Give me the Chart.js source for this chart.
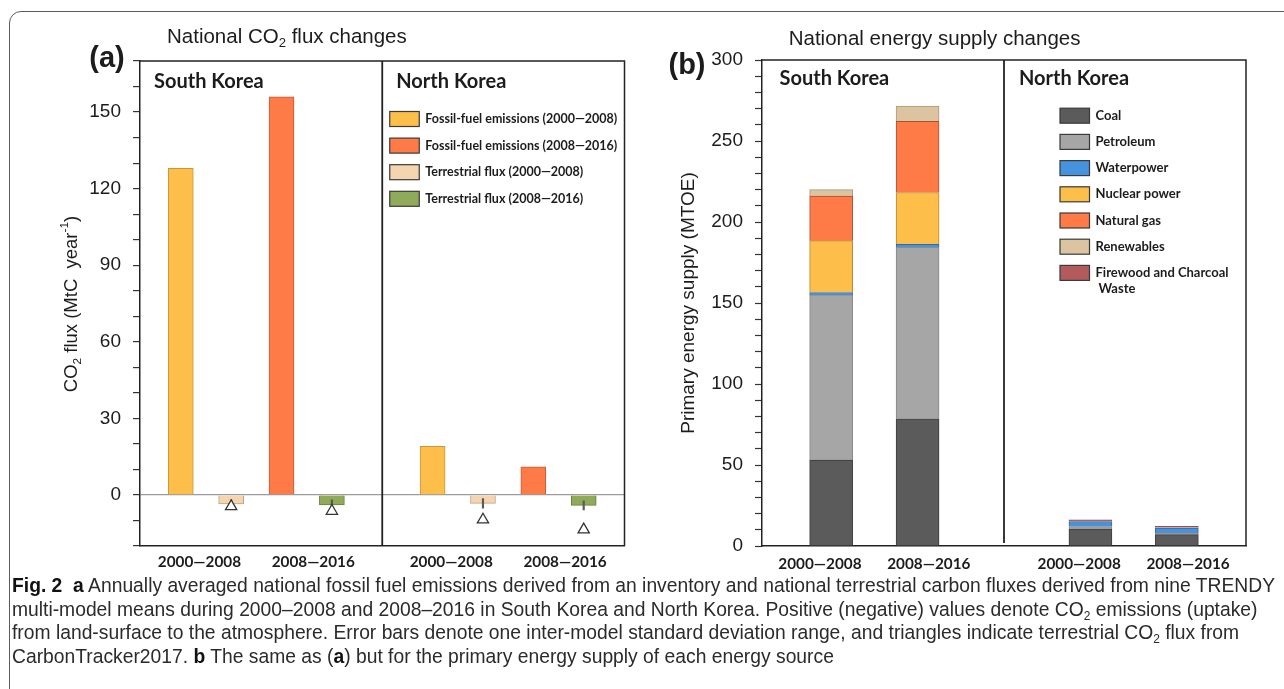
<!DOCTYPE html>
<html>
<head>
<meta charset="utf-8">
<script src="https://cdn.jsdelivr.net/npm/chart.js@4.4.1/dist/chart.umd.min.js"></script>
<style>
  html, body { margin: 0; padding: 0; background: #fff; }
  body { width: 1284px; height: 689px; overflow: hidden; position: relative; }
  #frame { position: absolute; left: 9px; top: 11px; width: 1400px; height: 800px;
           border: 1.3px solid #5c5c5c; border-radius: 12px; box-sizing: border-box; }
  canvas { position: absolute; top: 0; }
  #fluxCanvas { left: 0; }
  #energyCanvas { left: 640px; }
  #caption { position: absolute; left: 12px; top: 573px; color: #2b2b2b;
             font-family: "Liberation Sans Narrow", "Liberation Sans", Arial, sans-serif; font-size: 20.5px; }
  #caption .line { white-space: nowrap; width: max-content; height: 23.7px; line-height: 23.7px; transform-origin: 0 50%; }
  #caption b { color: #111; }
  #caption sub { font-size: 62%; vertical-align: -0.3em; line-height: 0; }
</style>
</head>
<body>
<div id="frame"></div>
<canvas id="fluxCanvas" width="640" height="600"></canvas>
<canvas id="energyCanvas" width="644" height="600"></canvas>
<div id="caption">
  <div class="line"><b>Fig. 2</b>&nbsp; <b>a</b> Annually averaged national fossil fuel emissions derived from an inventory and national terrestrial carbon fluxes derived from nine TRENDY</div>
  <div class="line">multi-model means during 2000–2008 and 2008–2016 in South Korea and North Korea. Positive (negative) values denote CO<sub>2</sub> emissions (uptake)</div>
  <div class="line">from land-surface to the atmosphere. Error bars denote one inter-model standard deviation range, and triangles indicate terrestrial CO<sub>2</sub> flux from</div>
  <div class="line">CarbonTracker2017. <b>b</b> The same as (<b>a</b>) but for the primary energy supply of each energy source</div>
</div>
<script>
// ---------------- data ----------------
const countries = ['South Korea', 'North Korea'];
const periods = ['2000—2008', '2008—2016'];

// (a) CO2 flux, MtC per year, [South Korea, North Korea]
const fossil2000to2008 = [128, 19];
const fossil2008to2016 = [156, 11];
const terrestrial2000to2008 = [-3.5, -3.3];
const terrestrial2008to2016 = [-3.9, -4.1];
const terrestrialSd2000to2008 = [1.6, 1.9];
const terrestrialSd2008to2016 = [2.0, 1.8];
const carbonTracker2000to2008 = [-4.5, -9.7];
const carbonTracker2008to2016 = [-6.3, -13.6];

// (b) primary energy supply, MTOE, [SK 2000—2008, SK 2008—2016, NK 2000—2008, NK 2008—2016]
const coal = [53, 78.5, 10.5, 7];
const petroleum = [102, 106, 1.5, 1.1];
const waterpower = [1.5, 1.7, 3.1, 3.0];
const nuclearPower = [32, 32, 0, 0];
const naturalGas = [27.5, 44, 0, 0];
const renewables = [4, 9.3, 0.3, 0.3];
const firewoodCharcoal = [0, 0, 0.8, 0.8];

// (a) y ticks every 10, labelled every 30; (b) every 10, labelled every 50
const fluxTickStep = 10, fluxLabelStep = 30;
const energyTickStep = 10, energyLabelStep = 50;

// ---------------- shared helpers ----------------
const SANS = '"Liberation Sans", Arial, sans-serif';
const LABEL = 'Lato, "Liberation Sans", sans-serif';
const INK = '#1c1c1c';
const periodLabelSpread = 0.13;   // period labels sit slightly apart, in slot units

// draws a string made of parts ['text', 'sub'|'sup'|undefined]
function drawRich(ctx, parts, x, y, size, family, weight, align) {
  const fontFor = (kind) => `${weight} ${kind ? size * 0.64 : size}px ${family}`;
  let total = 0;
  for (const [t, kind] of parts) { ctx.font = fontFor(kind); total += ctx.measureText(t).width; }
  let cx = align === 'center' ? x - total / 2 : (align === 'right' ? x - total : x);
  ctx.textAlign = 'left';
  ctx.textBaseline = 'middle';
  for (const [t, kind] of parts) {
    ctx.font = fontFor(kind);
    const dy = kind === 'sub' ? size * 0.3 : (kind === 'sup' ? -size * 0.38 : 0);
    ctx.fillText(t, cx, y + dy);
    cx += ctx.measureText(t).width;
  }
}
function drawRotated(ctx, parts, x, y, size, family, weight) {
  ctx.save();
  ctx.translate(x, y);
  ctx.rotate(-Math.PI / 2);
  drawRich(ctx, parts, 0, 0, size, family, weight, 'center');
  ctx.restore();
}
function drawLegendRow(ctx, boxX, rowY, fill, lines, textX, size) {
  ctx.fillStyle = fill;
  ctx.fillRect(boxX, rowY - 7.5, 29.5, 15);
  ctx.strokeStyle = '#3a3a3a';
  ctx.lineWidth = 1.2;
  ctx.strokeRect(boxX, rowY - 7.5, 29.5, 15);
  ctx.fillStyle = INK;
  ctx.font = `bold ${size}px ${LABEL}`;
  ctx.textAlign = 'left';
  ctx.textBaseline = 'middle';
  lines.forEach((t, i) => ctx.fillText(t, textX + (i ? 3 : 0), rowY + i * 15.5));
}
function frameAndDivider(ctx, ca, xd, bottomInset) {
  ctx.strokeStyle = '#222';
  ctx.lineWidth = 1.5;
  ctx.beginPath();
  ctx.moveTo(ca.left, ca.top);
  ctx.lineTo(ca.right, ca.top);
  ctx.lineTo(ca.right, ca.bottom);
  ctx.stroke();
  ctx.lineWidth = 1.8;
  ctx.beginPath();
  ctx.moveTo(xd, ca.top);
  ctx.lineTo(xd, ca.bottom - bottomInset);
  ctx.stroke();
}

Chart.defaults.font.family = SANS;
Chart.defaults.color = INK;

// ---------------- (a) CO2 flux ----------------
// slot on the x axis: 4 bars per country, one empty slot between countries
const fluxSlot = (c, p, k) => c * 5 + p * 2 + k;      // k: 0 fossil, 1 terrestrial
const fluxDivider = 4;
const fluxPoints = (vals, p, k) => vals.map((v, c) => ({ x: fluxSlot(c, p, k), y: v }));
const fluxTicks = countries.flatMap((_, c) => periods.map((_, p) =>
  fluxSlot(c, p, 0) + 0.5 + (p ? periodLabelSpread : -periodLabelSpread)));

const fluxSeries = [
  { label: 'Fossil-fuel emissions (2000—2008)', data: fluxPoints(fossil2000to2008, 0, 0), backgroundColor: '#FDBF4A', borderColor: '#C9953B' },
  { label: 'Fossil-fuel emissions (2008—2016)', data: fluxPoints(fossil2008to2016, 1, 0), backgroundColor: '#FE7B47', borderColor: '#C25A33' },
  { label: 'Terrestrial flux (2000—2008)', data: fluxPoints(terrestrial2000to2008, 0, 1), backgroundColor: '#F4D5AF', borderColor: '#C4A47E' },
  { label: 'Terrestrial flux (2008—2016)', data: fluxPoints(terrestrial2008to2016, 1, 1), backgroundColor: '#8FAB5A', borderColor: '#66823C' }
];
const errorBars = [
  ...terrestrial2000to2008.map((v, c) => ({ x: fluxSlot(c, 0, 1), y: [v - terrestrialSd2000to2008[c], v + terrestrialSd2000to2008[c]] })),
  ...terrestrial2008to2016.map((v, c) => ({ x: fluxSlot(c, 1, 1), y: [v - terrestrialSd2008to2016[c], v + terrestrialSd2008to2016[c]] }))
];
const trackerPoints = [...fluxPoints(carbonTracker2000to2008, 0, 1), ...fluxPoints(carbonTracker2008to2016, 1, 1)];

const fluxDecor = {
  id: 'fluxDecor',
  afterDraw(chart) {
    const { ctx, chartArea: ca, scales: { x } } = chart;
    const xd = x.getPixelForValue(fluxDivider);
    ctx.save();
    frameAndDivider(ctx, ca, xd, 0);
    ctx.fillStyle = INK;
    drawRich(ctx, [['National CO'], ['2', 'sub'], [' flux changes']], 167, 37, 20.5, SANS, 'normal', 'left');
    drawRich(ctx, [['(a)']], 107, 59, 29, SANS, 'bold', 'center');
    drawRotated(ctx, [['CO'], ['2', 'sub'], [' flux (MtC  year'], ['-1', 'sup'], [')']], 72, 304, 18.5, SANS, 'normal');
    ctx.font = `bold 20px ${LABEL}`;
    ctx.textAlign = 'left';
    ctx.textBaseline = 'middle';
    ctx.fillText(countries[0], ca.left + 14, 82);
    ctx.fillText(countries[1], xd + 14, 82);
    fluxSeries.forEach((s, i) => drawLegendRow(ctx, xd + 7.5, ca.top + 58 + i * 26.6, s.backgroundColor, [s.label], xd + 43, 12.5));
    ctx.restore();
  }
};

new Chart(document.getElementById('fluxCanvas'), {
  type: 'bar',
  data: {
    datasets: [
      { type: 'scatter', data: trackerPoints, pointStyle: 'triangle', pointRadius: 6.5, pointBackgroundColor: '#fff',
        pointBorderColor: '#333', pointBorderWidth: 1.3, order: 0 },
      { data: errorBars, backgroundColor: '#5a5a5a', borderWidth: 0, barThickness: 1.5, order: 1 },
      ...fluxSeries.map(s => ({ ...s, borderWidth: 1, barThickness: 25, order: 2 }))
    ]
  },
  options: {
    responsive: false,
    animation: false,
    layout: { padding: { left: 40, top: 61, right: 15.5, bottom: 14 } },
    plugins: { legend: { display: false }, tooltip: { enabled: false } },
    scales: {
      x: {
        type: 'linear', min: -0.81, max: 8.81, stacked: true, offset: false,
        afterBuildTicks: s => { s.ticks = fluxTicks.map(v => ({ value: v })); },
        afterFit: s => { s.height = 40; },
        ticks: { callback: (v, i) => periods[i % 2], autoSkip: false, maxRotation: 0, padding: 7,
                 font: { family: LABEL, weight: 'bold', size: 15.3 }, color: INK },
        grid: { display: false, drawTicks: false },
        border: { display: true, color: '#222', width: 1.5 }
      },
      y: {
        min: -20, max: 170, stacked: false,
        afterFit: s => { s.width = 100; },
        ticks: { stepSize: fluxTickStep, autoSkip: false, padding: 12,
                 callback: v => (v % fluxLabelStep === 0 ? String(v) : ''),
                 font: { family: SANS, size: 19 }, color: INK },
        grid: { drawOnChartArea: true, lineWidth: 1.2,
                color: c => (c.tick && c.tick.value === 0 ? '#9c9c9c' : 'rgba(0,0,0,0)'),
                tickColor: '#333', tickLength: 7, tickWidth: 1.2 },
        border: { color: '#222', width: 1.5 }
      }
    }
  },
  plugins: [fluxDecor]
});

// ---------------- (b) energy supply ----------------
const energySlot = (c, p) => c * 3 + p;                 // one empty slot between countries
const energyDivider = 2;
const energyPoints = vals => vals.map((v, i) => ({ x: energySlot(Math.floor(i / 2), i % 2), y: v === 0 ? null : v }));
const energyTicks = countries.flatMap((_, c) => periods.map((_, p) =>
  energySlot(c, p) + (p ? periodLabelSpread : -periodLabelSpread)));

const energySeries = [
  { label: 'Coal', values: coal, backgroundColor: '#5B5B5B', borderColor: '#3C3C3C' },
  { label: 'Petroleum', values: petroleum, backgroundColor: '#A6A6A6', borderColor: '#868686' },
  { label: 'Waterpower', values: waterpower, backgroundColor: '#4592DE', borderColor: '#2E6BAA' },
  { label: 'Nuclear power', values: nuclearPower, backgroundColor: '#FDBF4A', borderColor: '#B98635' },
  { label: 'Natural gas', values: naturalGas, backgroundColor: '#FE7A47', borderColor: '#A95232' },
  { label: 'Renewables', values: renewables, backgroundColor: '#DCC4A1', borderColor: '#AD987A' },
  { label: 'Firewood and Charcoal\nWaste', values: firewoodCharcoal, backgroundColor: '#B35A5C', borderColor: '#843F41' }
];

const energyDecor = {
  id: 'energyDecor',
  afterDraw(chart) {
    const { ctx, chartArea: ca, scales: { x } } = chart;
    const xd = x.getPixelForValue(energyDivider);
    ctx.save();
    frameAndDivider(ctx, ca, xd, 3);
    ctx.fillStyle = INK;
    drawRich(ctx, [['National energy supply changes']], 148.7, 39, 20.5, SANS, 'normal', 'left');
    drawRich(ctx, [['(b)']], 47, 66, 29, SANS, 'bold', 'center');
    drawRotated(ctx, [['Primary energy supply (MTOE)']], 49, 303, 19, SANS, 'normal');
    ctx.font = `bold 20px ${LABEL}`;
    ctx.textAlign = 'left';
    ctx.textBaseline = 'middle';
    ctx.fillText(countries[0], ca.left + 17.5, 79);
    ctx.fillText(countries[1], xd + 15, 79);
    energySeries.forEach((s, i) => drawLegendRow(ctx, xd + 56, ca.top + 55.7 + i * 26.2, s.backgroundColor, s.label.split('\n'), xd + 91.5, 13));
    ctx.restore();
  }
};

new Chart(document.getElementById('energyCanvas'), {
  type: 'bar',
  data: {
    datasets: energySeries.map(s => ({
      label: s.label, data: energyPoints(s.values), backgroundColor: s.backgroundColor,
      borderColor: s.borderColor, borderWidth: 1, barThickness: 43
    }))
  },
  options: {
    responsive: false,
    animation: false,
    layout: { padding: { left: 22, top: 60, right: 38, bottom: 14 } },
    plugins: { legend: { display: false }, tooltip: { enabled: false } },
    scales: {
      x: {
        type: 'linear', min: -0.8, max: 4.8, stacked: true, offset: false,
        afterBuildTicks: s => { s.ticks = energyTicks.map(v => ({ value: v })); },
        afterFit: s => { s.height = 40; },
        ticks: { callback: (v, i) => periods[i % 2], autoSkip: false, maxRotation: 0, padding: 9,
                 font: { family: LABEL, weight: 'bold', size: 15.3 }, color: INK },
        grid: { display: false, drawTicks: false },
        border: { display: true, color: '#222', width: 1.5 }
      },
      y: {
        min: 0, max: 300, stacked: true,
        afterFit: s => { s.width = 100; },
        ticks: { stepSize: energyTickStep, autoSkip: false, padding: 12,
                 callback: v => (v % energyLabelStep === 0 ? String(v) : ''),
                 font: { family: SANS, size: 19 }, color: INK },
        grid: { drawOnChartArea: false, color: 'rgba(0,0,0,0)', tickColor: '#333', tickLength: 7, tickWidth: 1.2 },
        border: { color: '#222', width: 1.5 }
      }
    }
  },
  plugins: [energyDecor]
});

// ---------------- caption: condensed to the figure width ----------------
const captionLines = document.querySelectorAll('#caption .line');
const squeeze = 1263 / captionLines[0].getBoundingClientRect().width;
captionLines.forEach(l => { l.style.transform = `scaleX(${squeeze})`; });
</script>
</body>
</html>
